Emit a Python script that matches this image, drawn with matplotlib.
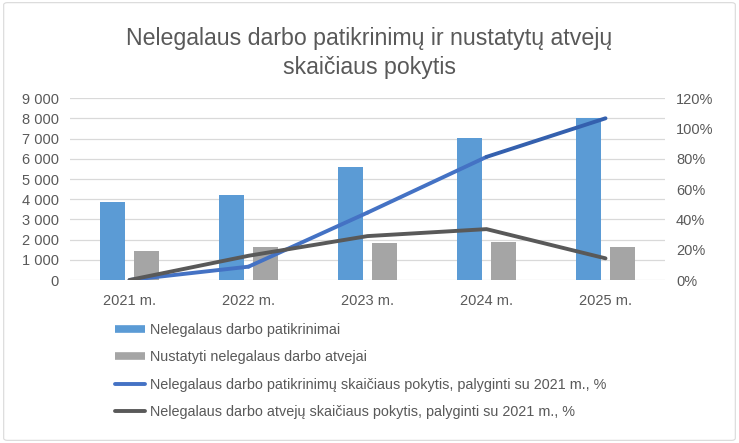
import matplotlib
matplotlib.use("Agg")
import matplotlib.pyplot as plt
import numpy as np
from matplotlib.collections import LineCollection
from matplotlib.lines import Line2D
from matplotlib.patches import FancyBboxPatch
from matplotlib.ticker import FuncFormatter

plt.rcParams['font.family'] = ['Liberation Sans', 'DejaVu Sans']

years = ["2021 m.", "2022 m.", "2023 m.", "2024 m.", "2025 m."]
inspections = [3870, 4200, 5600, 7040, 8010]
cases = [1420, 1640, 1820, 1890, 1630]
insp_change = [0, 8.8, 44.5, 81.3, 106.8]
case_change = [0, 16.0, 29.0, 33.6, 14.3]

labels = ["Nelegalaus darbo patikrinimai",
          "Nustatyti nelegalaus darbo atvejai",
          "Nelegalaus darbo patikrinimų skaičiaus pokytis, palyginti su 2021 m., %",
          "Nelegalaus darbo atvejų skaičiaus pokytis, palyginti su 2021 m., %"]

c_blue_bar = "#5B9BD5"
c_gray_bar = "#A5A5A5"
c_blue_line = ["#4472C4", "#4472C4", "#4472C4", "#3460AE"]
c_gray_line = "#595959"
c_text = "#595959"
c_grid = "#D9D9D9"

fig = plt.figure(figsize=(7.39, 4.43), dpi=100)
fig.patches.append(FancyBboxPatch((0.005, 0.006), 0.99, 0.988, boxstyle="round,pad=0,rounding_size=0.005",
                                  transform=fig.transFigure, fill=False, edgecolor="#D9D9D9", lw=0.8))

ax = fig.add_axes([70/739, 1-280/443, (665-70)/739, (280-98.3)/443])
x = np.arange(len(years))
w = 0.218
off = 0.143
ax.bar(x - off, inspections, w, color=c_blue_bar, zorder=2)
ax.bar(x + off, cases, w, color=c_gray_bar, zorder=2)
ax.set_xlim(-0.5, len(years) - 0.5)
ax.set_ylim(0, 9000)
ax.set_yticks(np.arange(0, 9001, 1000))
ax.yaxis.set_major_formatter(FuncFormatter(lambda v, p: f"{int(v):,}".replace(",", " ")))
ax.set_xticks(x)
ax.set_xticklabels(years)
ax.grid(axis='y', color=c_grid, lw=0.9, zorder=0)
ax.set_axisbelow(True)
for s in ax.spines.values():
    s.set_visible(False)
ax.tick_params(length=0, labelsize=10.5, colors=c_text, pad=8)
ax.tick_params(axis='x', pad=10)

ax2 = ax.twinx()
ax2.set_ylim(0, 120)
ax2.set_yticks(np.arange(0, 121, 20))
ax2.yaxis.set_major_formatter(FuncFormatter(lambda v, p: f"{int(v)}%"))
for s in ax2.spines.values():
    s.set_visible(False)
ax2.tick_params(length=0, labelsize=10.5, colors=c_text, pad=8)

pts = np.column_stack([x, insp_change])
segs = np.stack([pts[:-1], pts[1:]], axis=1)
lc = LineCollection(segs, colors=c_blue_line, linewidths=2.8, capstyle='round', joinstyle='round', zorder=3)
ax2.add_collection(lc)
ax2.plot(x, case_change, color=c_gray_line, lw=2.8, solid_capstyle='round', zorder=3)

fig.suptitle("Nelegalaus darbo patikrinimų ir nustatytų atvejų\nskaičiaus pokytis",
             x=0.5, y=1-27/443, va='top', fontsize=16.7, color=c_text, linespacing=1.33)

handles = [Line2D([], [], color=c_blue_bar, lw=5.5, solid_capstyle='butt'),
           Line2D([], [], color=c_gray_bar, lw=5.5, solid_capstyle='butt'),
           Line2D([], [], color="#4472C4", lw=2.8, solid_capstyle='round'),
           Line2D([], [], color=c_gray_line, lw=2.8, solid_capstyle='round')]
fig.legend(handles, labels, loc='upper left', bbox_to_anchor=(115/739, 1-323/443), frameon=False,
           fontsize=10.4, labelcolor=c_text, handlelength=2.1, handletextpad=0.3, labelspacing=0.92,
           borderaxespad=0, borderpad=0)

fig.savefig("out.png", dpi=100)
